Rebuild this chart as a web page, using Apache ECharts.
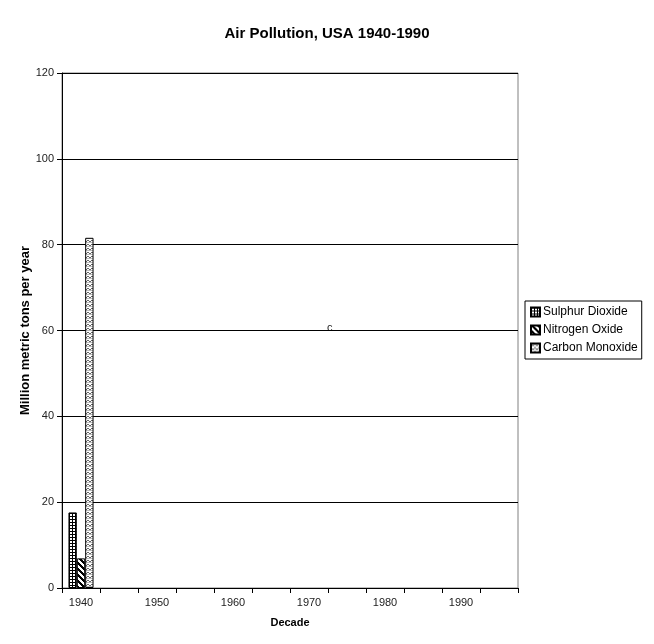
<!DOCTYPE html>
<html>
<head>
<meta charset="utf-8">
<script src="https://cdn.jsdelivr.net/npm/echarts@6/dist/echarts.min.js"></script>
<style>html,body{margin:0;padding:0;background:#fff;}#c{width:654px;height:644px;}</style>
</head>
<body>
<div id="c"></div>
<script>
var categories = ['1940','','1950','','1960','','1970','','1980','','1990',''];
var sulphurDioxide = [17.6, null, null, null, null, null, null, null, null, null, null, null];
var nitrogenOxide = [6.9, null, null, null, null, null, null, null, null, null, null, null];
var carbonMonoxide = [81.6, null, null, null, null, null, null, null, null, null, null, null];
var seriesNames = ['Sulphur Dioxide', 'Nitrogen Oxide', 'Carbon Monoxide'];

function makePattern(w, h, draw) {
  var c = document.createElement('canvas');
  c.width = w; c.height = h;
  var ctx = c.getContext('2d');
  ctx.fillStyle = '#fff';
  ctx.fillRect(0, 0, w, h);
  draw(ctx);
  return { image: c, repeat: 'repeat' };
}
var gridPat = makePattern(3, 3, function (ctx) {
  ctx.fillStyle = '#000';
  ctx.fillRect(0, 0, 3, 1);
  ctx.fillRect(0, 0, 1, 3);
});
var diagPat = makePattern(6, 6, function (ctx) {
  ctx.fillStyle = '#000';
  for (var y = 0; y < 6; y++) {
    for (var k = 0; k < 3; k++) {
      ctx.fillRect((y + k) % 6, y, 1, 1);
    }
  }
});
var zigPat = makePattern(4, 4, function (ctx) {
  ctx.fillStyle = '#666';
  ctx.fillRect(0, 0, 1, 1);
  ctx.fillRect(1, 1, 1, 1);
  ctx.fillRect(2, 1, 1, 1);
  ctx.fillRect(3, 0, 1, 1);
  ctx.fillStyle = '#bbb';
  ctx.fillRect(0, 2, 4, 1);
});

var chart = echarts.init(document.getElementById('c'), null, { renderer: 'canvas' });
var font = 'Liberation Sans, Arial, sans-serif';
chart.setOption({
  animation: false,
  backgroundColor: '#fff',
  textStyle: { fontFamily: font },
  title: {
    text: 'Air Pollution, USA 1940-1990',
    left: 'center', top: 21,
    textStyle: { fontSize: 15, fontWeight: 'bold', color: '#000', fontFamily: font }
  },
  legend: {
    orient: 'vertical',
    left: 525, top: 301,
    padding: [5, 4, 5, 5],
    itemGap: 6,
    itemWidth: 9, itemHeight: 9,
    borderColor: '#000', borderWidth: 1,
    backgroundColor: '#fff',
    icon: 'rect',
    textStyle: { fontSize: 12, color: '#000', fontFamily: font, padding: [0, 0, 0, -2] },
    data: seriesNames
  },
  grid: {
    left: 62, right: 136, top: 73, bottom: 56,
    show: true, borderColor: '#808080', borderWidth: 1, backgroundColor: '#fff'
  },
  xAxis: {
    type: 'category',
    data: categories,
    name: 'Decade',
    nameLocation: 'middle',
    nameGap: 29,
    nameMoveOverlap: false,
    nameTextStyle: { fontSize: 11, fontWeight: 'bold', color: '#000', fontFamily: font },
    axisLine: { lineStyle: { color: '#000', width: 1 } },
    axisTick: { show: true, interval: 0, length: 5, lineStyle: { color: '#000' } },
    axisLabel: { interval: 0, fontSize: 11, color: '#222', margin: 9 },
    splitLine: { show: false }
  },
  yAxis: {
    type: 'value',
    min: 0, max: 120, interval: 20,
    name: 'Million metric tons per year',
    nameLocation: 'middle',
    nameGap: 30,
    nameMoveOverlap: false,
    nameTextStyle: { fontSize: 13, fontWeight: 'bold', color: '#000', fontFamily: font },
    axisLine: { show: true, lineStyle: { color: '#000', width: 1 } },
    axisTick: { show: true, length: 5, lineStyle: { color: '#000' } },
    axisLabel: { fontSize: 11, color: '#222', margin: 8 },
    splitLine: { show: true, lineStyle: { color: '#000', width: 1 } }
  },
  graphic: [{
    type: 'text', left: 327, top: 322,
    style: { text: 'c', fontSize: 11, fill: '#222', font: '11px Liberation Sans' }
  }],
  series: [
    { name: seriesNames[0], type: 'bar', data: sulphurDioxide, barGap: '0%', barCategoryGap: '34%',
      itemStyle: { color: gridPat, borderColor: '#000', borderWidth: 1 } },
    { name: seriesNames[1], type: 'bar', data: nitrogenOxide,
      itemStyle: { color: diagPat, borderColor: '#000', borderWidth: 1 } },
    { name: seriesNames[2], type: 'bar', data: carbonMonoxide,
      itemStyle: { color: zigPat, borderColor: '#000', borderWidth: 1 } }
  ]
});
</script>
</body>
</html>
